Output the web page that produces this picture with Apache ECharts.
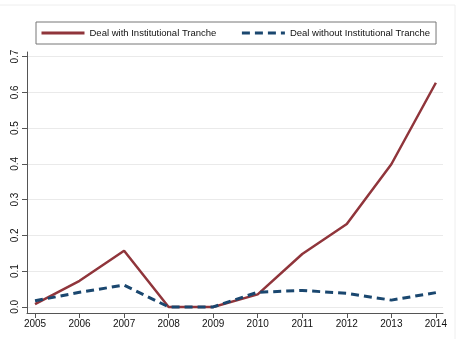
<!DOCTYPE html>
<html>
<head>
<meta charset="utf-8">
<script src="https://cdn.jsdelivr.net/npm/echarts@6/dist/echarts.min.js"></script>
<style>
html, body { margin: 0; padding: 0; background: #fff; }
#chart { width: 459px; height: 339px; }
</style>
</head>
<body>
<div id="chart"></div>
<script>
var years = [2005, 2006, 2007, 2008, 2009, 2010, 2011, 2012, 2013, 2014];
var withTranche = [0.008, 0.073, 0.157, 0, 0, 0.035, 0.148, 0.232, 0.399, 0.627];
var withoutTranche = [0.017, 0.041, 0.061, 0, 0, 0.041, 0.046, 0.038, 0.019, 0.04];
var yTicks = [0, 0.1, 0.2, 0.3, 0.4, 0.5, 0.6, 0.7];

function pairs(vals) {
    return years.map(function (y, i) { return [y, vals[i]]; });
}

var myChart = echarts.init(document.getElementById('chart'));

var option = {
    animation: false,
    backgroundColor: '#fff',
    textStyle: { fontFamily: 'Liberation Sans, Arial, sans-serif' },
    graphic: [
        {
            type: 'rect',
            shape: { x: -2, y: 5, width: 457, height: 340 },
            style: { fill: 'none', stroke: '#eeeeee', lineWidth: 1 },
            silent: true
        }
    ],
    legend: {
        left: 36,
        top: 22,
        padding: [6, 6, 6, 4],
        borderColor: '#777',
        borderWidth: 1,
        itemWidth: 43,
        itemHeight: 12,
        itemGap: 24,
        itemStyle: { opacity: 0 },
        lineStyle: { width: 3 },
        textStyle: { fontSize: 9.5, color: '#111' },
        data: ['Deal with Institutional Tranche', 'Deal without Institutional Tranche']
    },
    grid: { left: 27, right: 16, top: 52, bottom: 26, outerBoundsMode: 'none', containLabel: false },
    xAxis: {
        type: 'value',
        min: 2004.82,
        max: 2014.16,
        axisLine: { show: true, onZero: false, lineStyle: { color: '#555', width: 1 } },
        axisTick: { show: true, length: 5, customValues: years, lineStyle: { color: '#555' } },
        axisLabel: { customValues: years, fontSize: 10, color: '#111', margin: 6,
            formatter: function (v) { return String(v); } },
        splitLine: { show: false }
    },
    yAxis: {
        type: 'value',
        min: -0.017,
        max: 0.713,
        name: 'Percent of Deals',
        nameLocation: 'middle',
        nameGap: 20,
        nameTextStyle: { fontSize: 8, color: '#111' },
        axisLine: { show: true, lineStyle: { color: '#555', width: 1 } },
        axisTick: { show: true, length: 5, customValues: yTicks, lineStyle: { color: '#555' } },
        axisLabel: { customValues: yTicks, rotate: 90, fontSize: 10, color: '#111', margin: 7,
            formatter: function (v) { return v.toFixed(1); } },
        splitLine: { show: true, lineStyle: { color: '#eaeaea', width: 1 } }
    },
    series: [
        {
            name: 'Deal with Institutional Tranche',
            type: 'line',
            data: pairs(withTranche),
            symbol: 'none',
            color: '#90353b',
            lineStyle: { color: '#90353b', width: 2.5 }
        },
        {
            name: 'Deal without Institutional Tranche',
            type: 'line',
            data: pairs(withoutTranche),
            symbol: 'none',
            color: '#1a476f',
            lineStyle: { color: '#1a476f', width: 3, type: [8, 5] }
        }
    ]
};
myChart.setOption(option);

window.onresize = function () {
    myChart.resize();
};
</script>
</body>
</html>
